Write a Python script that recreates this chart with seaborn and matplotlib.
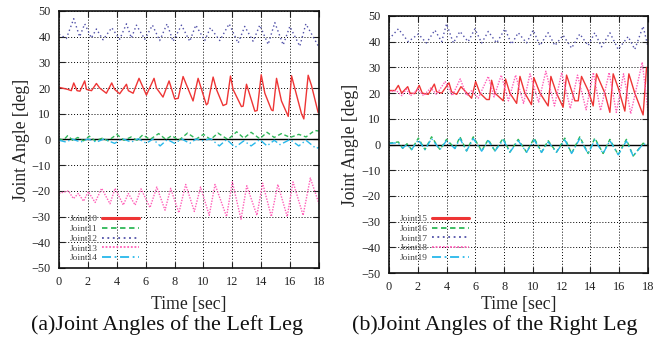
import matplotlib
matplotlib.use('Agg')

import numpy as np
import pandas as pd
import seaborn as sns
import matplotlib.pyplot as plt

# =================================== DATA ===================================

# ---- left leg ----
J10_T = [0, 0.6, 0.85, 1.02, 1.25, 1.45, 1.78, 1.9, 2.25, 2.59, 2.82, 3.28, 3.65, 3.85, 4.2, 4.67, 4.8, 5.13, 5.54, 6.05,
         6.58, 6.75, 7.2, 7.62, 8.01, 8.25, 8.59, 9.28, 9.63, 10.2, 10.3, 10.67, 10.9, 11.36, 11.6, 11.87, 12.05, 12.63, 12.75, 12.98,
         13.56, 13.72, 14.0, 14.25, 14.71, 14.82, 15.06, 15.4, 15.87, 16.1, 16.32, 16.79, 16.95, 17.25, 17.48, 17.94]
J10_V = [20.3, 19.5, 19.0, 22.0, 19.0, 18.8, 22.8, 19.5, 19.0, 21.8, 20.0, 18.0, 22.0, 19.5, 17.8, 21.5, 19.0, 18.0, 23.8, 17.3,
         23.8, 20.0, 16.5, 22.8, 15.8, 16.0, 24.5, 15.0, 23.8, 13.5, 14.0, 24.3, 19.5, 13.2, 13.8, 24.7, 19.5, 12.8, 13.0, 21.5,
         11.0, 11.3, 25.2, 18.0, 11.5, 11.2, 23.8, 15.0, 9.0, 24.8, 20.0, 10.0, 8.0, 25.0, 21.0, 10.5]

J11_T = [0, 0.3, 0.6, 0.95, 1.3, 1.7, 2.1, 2.5, 3.0, 3.4, 4.0, 4.5, 5.0, 5.4, 5.8, 6.3, 6.9, 7.4, 7.8, 8.3,
         8.9, 9.5, 10.0, 10.5, 11.0, 11.7, 12.3, 12.8, 13.3, 13.9, 14.4, 14.9, 15.4, 16.0, 16.6, 17.1, 17.7, 18.0]
J11_V = [0.3, -0.3, 1.5, -0.3, 0.8, -0.5, 1.3, -0.5, 0.5, -0.5, 2.0, -0.3, 1.0, -0.3, 1.8, 0.0, 2.3, 0.0, 1.5, -0.3,
         2.5, 0.2, 2.0, 0.0, 2.5, 0.0, 3.0, 0.5, 2.8, 0.3, 2.8, 0.8, 2.3, 0.8, 2.0, 1.0, 3.5, 3.3]

J12_T = [0, 0.51, 1.02, 1.43, 1.78, 2.24, 2.59, 3.05, 3.65, 4.2, 4.67, 5.01, 5.36, 5.94, 6.47, 6.97, 7.48, 7.9, 8.48, 9.05,
         9.47, 10.09, 10.48, 11.13, 11.78, 12.4, 12.86, 13.44, 13.9, 14.48, 14.94, 15.52, 15.98, 16.67, 17.09, 17.94]
J12_V = [41.0, 39.3, 47.0, 40.0, 45.0, 39.5, 43.0, 38.8, 43.5, 39.0, 45.0, 39.5, 44.5, 39.0, 44.5, 38.5, 45.0, 38.2, 44.5, 38.2,
         44.5, 38.5, 43.5, 38.5, 45.0, 37.5, 44.0, 38.2, 44.5, 37.0, 45.5, 36.8, 44.0, 36.3, 45.0, 36.5]

J13_T = [0, 0.3, 0.65, 1.0, 1.34, 1.7, 2.03, 2.5, 2.95, 3.53, 3.88, 4.45, 4.8, 5.27, 5.68, 6.3, 6.77, 7.34, 7.73, 8.3,
         8.77, 9.37, 9.8, 10.4, 10.8, 11.6, 12.0, 12.6, 13.0, 13.7, 14.1, 14.7, 15.15, 15.8, 16.2, 16.9, 17.4, 18.0]
J13_V = [-21, -20.5, -20, -23, -21, -24, -20.3, -24.5, -19, -25, -19, -25.5, -21, -25.5, -19.2, -26.5, -18.5, -27.5, -19, -28.5,
         -17.5, -28, -18.5, -29.5, -17.5, -30, -16.5, -31, -18, -29.5, -17, -30, -17.5, -30, -16.5, -29.5, -15, -25]

J14_T = [0, 0.5, 0.9, 1.5, 2.0, 2.6, 3.1, 3.85, 4.4, 5.0, 5.5, 6.05, 6.5, 7.0, 7.5, 8.0, 8.5, 9.05, 9.5, 9.9,
         10.5, 11.1, 11.6, 12.2, 12.8, 13.3, 13.9, 14.4, 14.9, 15.3, 16.0, 16.6, 17.1, 17.8, 18.0]
J14_V = [-0.3, -1.0, 0.2, -1.0, 0.2, -1.0, 0.2, -1.5, 0.3, -1.0, 0.3, -1.5, 0.2, -2.5, 0.0, -1.5, 0.2, -1.5, 0.2, -0.5,
         0.3, -2.5, 0.0, -3.0, -0.5, -2.5, 0.0, -2.5, -0.3, -2.0, 0.0, -2.5, -0.3, -3.5, -3.0]

# ---- right leg ----
J15_T = [0, 0.42, 0.65, 0.88, 1.3, 1.46, 1.8, 2.1, 2.31, 2.73, 3.15, 3.31, 3.66, 4.17, 4.35, 4.7, 5.0, 5.5, 5.74, 6.02,
         6.32, 6.78, 6.97, 7.13, 7.36, 7.94, 8.1, 8.4, 8.87, 9.1, 9.44, 9.9, 10.07, 10.49, 11.06, 11.25, 11.64, 12.1, 12.34, 12.92,
         13.15, 13.38, 13.84, 14.19, 14.42, 15.0, 15.35, 15.58, 15.93, 16.39, 16.67, 17.08, 17.66, 17.9]
J15_V = [21.0, 21.0, 23.0, 20.0, 22.5, 20.0, 19.8, 23.0, 20.0, 19.5, 23.5, 20.5, 20.0, 24.0, 20.5, 19.5, 22.5, 19.5, 18.0, 24.5,
         20.0, 17.5, 17.5, 25.0, 20.0, 17.0, 25.5, 20.0, 16.0, 26.5, 20.0, 15.5, 26.0, 20.0, 15.0, 26.5, 20.0, 14.5, 27.0, 17.0,
         17.0, 26.5, 21.0, 15.0, 27.5, 20.0, 12.5, 27.5, 22.0, 13.0, 27.5, 20.0, 11.5, 30.0]

J16_T = [0, 0.4, 0.65, 0.95, 1.25, 1.57, 2.04, 2.5, 2.96, 3.54, 4.0, 4.58, 4.93, 5.39, 5.86, 6.44, 6.9, 7.36, 7.94, 8.4,
         8.98, 9.56, 10.09, 10.6, 11.06, 11.64, 12.22, 12.69, 13.26, 13.84, 14.3, 14.88, 15.35, 15.93, 16.5, 16.97, 17.66, 18.0]
J16_V = [0.5, 0.8, 1.0, -1.5, 0.3, -2.0, 2.5, -2.0, 3.0, -2.0, 2.0, -1.5, 3.0, -2.5, 3.0, -2.5, 2.0, -2.5, 2.5, -3.0,
         2.0, -3.0, 2.5, -3.0, 1.5, -3.0, 2.5, -3.5, 3.0, -3.5, 2.5, -3.5, 2.0, -4.0, 2.0, -4.5, 0.5, 0.0]

J17_T = [0, 0.65, 1.34, 2.04, 2.6, 3.19, 3.66, 4.0, 4.47, 4.93, 5.5, 5.97, 6.44, 6.9, 7.48, 8.06, 8.52, 8.98, 9.56, 10.02,
         10.49, 11.06, 11.53, 12.1, 12.69, 13.26, 13.84, 14.3, 14.77, 15.35, 15.93, 16.62, 17.08, 17.66, 18.0]
J17_V = [41.0, 45.0, 40.0, 43.0, 39.5, 44.5, 40.0, 47.0, 39.5, 44.0, 40.0, 45.0, 39.5, 44.0, 39.5, 45.0, 39.0, 43.5, 39.5, 44.5,
         38.5, 43.5, 38.5, 42.5, 37.5, 43.0, 38.5, 43.5, 38.0, 43.5, 37.0, 42.0, 37.0, 46.0, 38.0]

J18_T = [0, 0.5, 0.9, 1.2, 1.5, 2.0, 2.4, 2.9, 3.3, 3.9, 4.4, 4.95, 5.4, 5.75, 6.2, 6.9, 7.3, 7.8, 8.3, 8.8,
         9.35, 9.8, 10.4, 10.9, 11.5, 12.0, 12.6, 13.1, 13.7, 14.2, 14.7, 15.3, 15.8, 16.3, 16.8, 17.6, 18.0]
J18_V = [20.5, 21.0, 19.0, 21.5, 19.0, 21.5, 19.0, 22.0, 19.5, 24.5, 19.0, 25.5, 19.0, 21.0, 18.0, 26.5, 18.5, 27.0, 17.0, 27.0,
         16.0, 27.5, 16.5, 28.5, 15.0, 28.0, 14.0, 27.0, 13.5, 28.0, 13.2, 28.0, 12.5, 27.5, 12.0, 32.0, 13.0]

J19_T = [0, 0.4, 0.65, 0.95, 1.25, 1.57, 2.04, 2.5, 2.96, 3.54, 4.0, 4.58, 4.93, 5.39, 5.86, 6.44, 6.9, 7.36, 7.94, 8.4,
         8.98, 9.56, 10.09, 10.6, 11.06, 11.64, 12.22, 12.69, 13.26, 13.84, 14.3, 14.88, 15.35, 15.93, 16.5, 16.97, 17.66, 18.0]
J19_V = [0.4, 0.6, 0.5, -1.4, 0.0, -2.0, 1.8, -2.0, 2.3, -2.0, 1.5, -1.6, 2.3, -2.5, 2.3, -2.6, 1.5, -2.6, 1.8, -3.0,
         1.5, -3.0, 1.8, -3.1, 1.0, -3.0, 1.8, -3.5, 2.3, -3.6, 1.8, -3.5, 1.5, -4.0, 1.4, -4.5, 0.2, -0.2]

LEFT_SERIES = [('Joint10', J10_T, J10_V), ('Joint11', J11_T, J11_V), ('Joint12', J12_T, J12_V),
               ('Joint13', J13_T, J13_V), ('Joint14', J14_T, J14_V)]
RIGHT_SERIES = [('Joint15', J15_T, J15_V), ('Joint16', J16_T, J16_V), ('Joint17', J17_T, J17_V),
                ('Joint18', J18_T, J18_V), ('Joint19', J19_T, J19_V)]

X_TICKS = [0, 2, 4, 6, 8, 10, 12, 14, 16, 18]
Y_TICKS = [-50, -40, -30, -20, -10, 0, 10, 20, 30, 40, 50]

# gnuplot-like styles, one per position in the legend
COLORS = ['#ee3535', '#2fb757', '#5050a8', '#ff5fb8', '#28b8ea']
STYLES = ['-', (0, (3, 2)), (0, (1, 2)), (0, (1, 1)), (0, (5, 2, 1, 2))]

# =================================== PLOTTING ===================================

sns.set_style('ticks')
plt.rcParams['font.family'] = ['Liberation Serif', 'DejaVu Serif']
plt.rcParams['axes.linewidth'] = 1.2


def draw_panel(ax, series, ylabel_x, xlabel_y, legend_y):

    for idx, (name, t, v) in enumerate(series):
        frame = pd.DataFrame({'t': t, 'v': v})
        sns.lineplot(data=frame, x='t', y='v', ax=ax, sort=False, estimator=None,
                     color=COLORS[idx], linestyle=STYLES[idx], lw=1.0, label=name)

    ax.axhline(0, color='black', lw=1.0, zorder=1)
    ax.set_xlim(0, 18)
    ax.set_ylim(-50, 50)
    ax.set_xticks(X_TICKS)
    ax.set_yticks(Y_TICKS)
    ax.grid(True, color='black', linestyle=(0, (1, 2)), lw=0.7)
    ax.tick_params(direction='in', top=True, right=True, length=4, width=0.8,
                   labelsize=8.8, pad=6, colors='#222222')
    for spine in ax.spines.values():
        spine.set_color('#111111')

    ax.set_xlabel('Time [sec]', fontsize=12.7, color='#222222')
    ax.set_ylabel('Joint Angle [deg]', fontsize=12.7, color='#222222')
    ax.yaxis.set_label_coords(ylabel_x, 0.5)
    ax.xaxis.set_label_coords(0.5, xlabel_y)

    leg = ax.legend(loc='lower left', bbox_to_anchor=(0.02, legend_y), markerfirst=False, frameon=False,
                    fontsize=6.8, handlelength=4.0, handletextpad=0.4, labelspacing=0.12, borderaxespad=0.2)
    for i, line in enumerate(leg.get_lines()):
        line.set_linewidth(2.2 if i == 0 else 1.3)
    for text in leg.get_texts():
        text.set_color('#444444')


fig = plt.figure(figsize=(6.67, 3.39), dpi=100)
ax_left = fig.add_axes([59 / 667, 71 / 339, 260 / 667, 257 / 339])
ax_right = fig.add_axes([389 / 667, 66 / 339, 259 / 667, 257 / 339])

draw_panel(ax_left, LEFT_SERIES, -0.11, -0.11, 0.0)
draw_panel(ax_right, RIGHT_SERIES, -0.115, -0.09, 0.02)

fig.text(167 / 667, 14 / 339, '(a)Joint Angles of the Left Leg', ha='center', va='center', fontsize=15.8, color='#111111')
fig.text(495 / 667, 14 / 339, '(b)Joint Angles of the Right Leg', ha='center', va='center', fontsize=15.8, color='#111111')

fig.savefig('out.png', dpi=100)
plt.close('all')
